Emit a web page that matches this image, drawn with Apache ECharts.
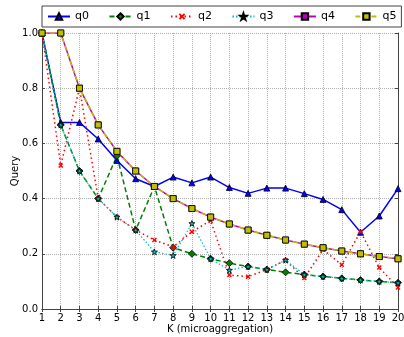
<!DOCTYPE html>
<html>
<head>
<meta charset="utf-8">
<script src="https://cdn.jsdelivr.net/npm/echarts@6/dist/echarts.min.js"></script>
<style>
  html, body { margin: 0; padding: 0; background: #fff; }
  #chart { width: 404px; height: 337px; }
</style>
</head>
<body>
<div id="chart"></div>
<script>
// values, K = 1..20
var K  = [1,2,3,4,5,6,7,8,9,10,11,12,13,14,15,16,17,18,19,20];
var q0 = [1.0,0.676,0.676,0.616,0.538,0.472,0.444,0.478,0.457,0.478,0.44,0.419,0.438,0.438,0.418,0.397,0.36,0.278,0.337,0.436];
var q1 = [1.0,0.667,0.5,0.4,0.555,0.286,0.444,0.222,0.2,0.182,0.166,0.154,0.143,0.133,0.125,0.118,0.111,0.105,0.1,0.095];
var q2 = [1.0,0.52,0.8,0.4,0.333,0.286,0.25,0.225,0.28,0.32,0.123,0.117,0.143,0.177,0.112,0.215,0.16,0.28,0.15,0.078];
var q3 = [1.0,0.667,0.5,0.4,0.333,0.286,0.207,0.194,0.31,0.182,0.141,0.154,0.143,0.177,0.124,0.118,0.111,0.105,0.1,0.095];
var q4 = [1.0,1.0,0.8,0.667,0.571,0.5,0.444,0.4,0.364,0.333,0.308,0.286,0.267,0.25,0.235,0.222,0.21,0.2,0.19,0.182];
var q5 = [1.0,1.0,0.8,0.667,0.571,0.5,0.444,0.4,0.364,0.333,0.308,0.286,0.267,0.25,0.235,0.222,0.21,0.2,0.19,0.182];

var STAR='path://M5,0 L6.2,3.6 L10,3.6 L6.9,5.9 L8.1,9.5 L5,7.3 L1.9,9.5 L3.1,5.9 L0,3.6 L3.8,3.6 Z';
var CROSS='path://M0,2 L2,0 L5,3 L8,0 L10,2 L7,5 L10,8 L8,10 L5,7 L2,10 L0,8 L3,5 Z';
var FONT='DejaVu Sans';

function pts(arr){ return arr.map(function(v,i){ return [K[i],v]; }); }

function mk(name,data,color,type,width,symbol,size,fill,border){
  return {
    name:name, type:'line', data:pts(data), symbol:symbol, symbolSize:size,
    lineStyle:{color:color,width:width,type:type},
    itemStyle:{color:fill,borderColor:border,borderWidth:border?0.8:0},
    emphasis:{disabled:true}, animation:false
  };
}

var chart=echarts.init(document.getElementById('chart'),null,{renderer:'canvas'});
chart.setOption({
  backgroundColor:'#fff',
  animation:false,
  textStyle:{fontFamily:FONT},
  grid:{left:42,right:6,top:33,bottom:28,outerBoundsMode:'none',containLabel:false},
  legend:{
    left:42, top:6,
    padding:[5,5], itemGap:19.5, itemWidth:22, itemHeight:8,
    borderColor:'#444', borderWidth:1, backgroundColor:'#fff',
    textStyle:{fontFamily:FONT,fontSize:11,color:'#000'},
    data:['q0','q1','q2','q3','q4','q5']
  },
  xAxis:[{
    type:'value', min:1, max:20, interval:1,
    name:'K (microaggregation)', nameLocation:'middle', nameGap:15, nameMoveOverlap:false,
    nameTextStyle:{fontFamily:FONT,fontSize:10,color:'#000',verticalAlign:'top'},
    axisLine:{show:true,lineStyle:{color:'#444',width:1}},
    axisTick:{show:true,inside:true,length:3,lineStyle:{color:'#444'}},
    axisLabel:{fontFamily:FONT,fontSize:10,color:'#000',margin:4},
    splitLine:{show:true,lineStyle:{color:'#b0b0b0',type:'dotted',width:1}}
  },{
    type:'value', min:1, max:20, interval:1, position:'top',
    axisLine:{show:true,lineStyle:{color:'#444',width:1}},
    axisTick:{show:true,inside:true,length:3,lineStyle:{color:'#444'}},
    axisLabel:{show:false}, splitLine:{show:false}
  }],
  yAxis:[{
    type:'value', min:0, max:1, interval:0.2,
    name:'Query', nameLocation:'middle', nameGap:22, nameMoveOverlap:false,
    nameTextStyle:{fontFamily:FONT,fontSize:10,color:'#000'},
    axisLine:{show:true,lineStyle:{color:'#444',width:1}},
    axisTick:{show:true,inside:true,length:3,lineStyle:{color:'#444'}},
    axisLabel:{fontFamily:FONT,fontSize:10,color:'#000',margin:4,
      formatter:function(v){ return v.toFixed(1); }},
    splitLine:{show:true,lineStyle:{color:'#b0b0b0',type:'dotted',width:1}}
  },{
    type:'value', min:0, max:1, interval:0.2, position:'right',
    axisLine:{show:true,lineStyle:{color:'#444',width:1}},
    axisTick:{show:true,inside:true,length:3,lineStyle:{color:'#444'}},
    axisLabel:{show:false}, splitLine:{show:false}
  }],
  series:[
    mk('q0',q0,'#0000ff','solid',1.5,'triangle',6,'#0000ff','#000'),
    mk('q1',q1,'#008000',[5,3],1.5,'diamond',7,'#008000','#000'),
    mk('q2',q2,'#ff0000',[1.5,3],1.5,CROSS,5,'#ff0000',null),
    mk('q3',q3,'#00bfbf',[1.5,2],1.2,STAR,6,'#00bfbf','#000'),
    mk('q4',q4,'#bf00bf','solid',1.5,'rect',6,'#bf00bf','#000'),
    mk('q5',q5,'#bfbf00',[5,3],1.5,'rect',6,'#bfbf00','#000')
  ]
});
</script>
</body>
</html>
